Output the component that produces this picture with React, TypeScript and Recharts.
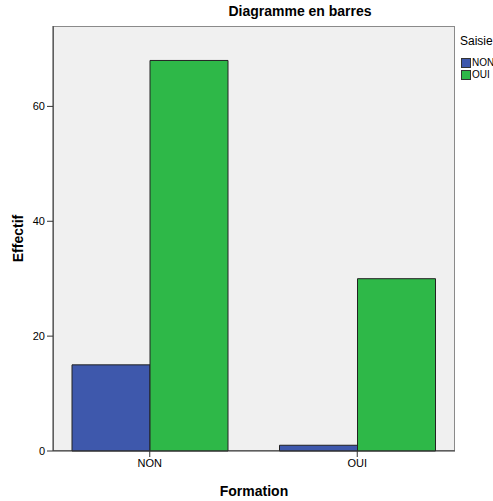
import React from "react";
import { BarChart, Bar, XAxis, YAxis, CartesianGrid } from "recharts";

// Formation categories and counts per "Saisie" answer
const categories = ["NON", "OUI"];
const saisieNon = [15, 1];
const saisieOui = [68, 30];
const yTicks = [0, 20, 40, 60];

const data = categories.map((c, i) => ({
  formation: c,
  NON: saisieNon[i],
  OUI: saisieOui[i],
}));

const BLUE = "#3E58AC";
const GREEN = "#2EB848";
const FONT = "Arial, 'Liberation Sans', sans-serif";

export default function App() {
  return (
    <div
      style={{
        position: "absolute",
        left: 0,
        top: 0,
        width: 493,
        height: 501,
        background: "#fff",
        fontFamily: FONT,
        overflow: "hidden",
      }}
    >
      {/* plot frame */}
      <div
        style={{
          position: "absolute",
          left: 53,
          top: 26,
          width: 402,
          height: 425,
          boxSizing: "border-box",
          border: "1px solid #8a8a8a",
          background: "#F0F0F0",
        }}
      />
      <div style={{ position: "absolute", left: 0, top: 0 }}>
        <BarChart
          width={493}
          height={501}
          data={data}
          margin={{ top: 26, right: 38, bottom: 0, left: 0 }}
          barGap={0}
          barCategoryGap={26}
        >
          <CartesianGrid horizontal={false} vertical={false} />
          <XAxis
            dataKey="formation"
            height={50}
            padding={{ left: -7, right: -6 }}
            tickSize={6}
            axisLine={{ stroke: "#333" }}
            tickLine={{ stroke: "#333" }}
            tick={{ fill: "#000", fontSize: 11, fontFamily: FONT }}
            label={{
              value: "Formation",
              position: "insideBottom",
              offset: 5,
              fill: "#000",
              fontSize: 14,
              fontWeight: "bold",
              fontFamily: FONT,
            }}
          />
          <YAxis
            width={53}
            domain={[0, 74]}
            ticks={yTicks}
            tickSize={6}
            axisLine={{ stroke: "#333" }}
            tickLine={{ stroke: "#333" }}
            tick={{ fill: "#000", fontSize: 11, fontFamily: FONT }}
            label={{
              value: "Effectif",
              angle: -90,
              position: "insideLeft",
              offset: 18,
              style: { textAnchor: "middle" },
              fill: "#000",
              fontSize: 14,
              fontWeight: "bold",
              fontFamily: FONT,
            }}
          />
          <Bar dataKey="NON" fill={BLUE} stroke="#222" strokeWidth={1} isAnimationActive={false} />
          <Bar dataKey="OUI" fill={GREEN} stroke="#222" strokeWidth={1} isAnimationActive={false} />
        </BarChart>
      </div>
      {/* title */}
      <div
        style={{
          position: "absolute",
          left: 200,
          width: 200,
          top: 3,
          textAlign: "center",
          fontSize: 14,
          fontWeight: "bold",
          color: "#000",
        }}
      >
        Diagramme en barres
      </div>
      {/* legend */}
      <div style={{ position: "absolute", left: 460, top: 34, fontSize: 12, color: "#000" }}>
        Saisie
      </div>
      {[
        { name: "NON", color: BLUE, top: 57 },
        { name: "OUI", color: GREEN, top: 69 },
      ].map((it) => (
        <div
          key={it.name}
          style={{
            position: "absolute",
            left: 461,
            top: it.top,
            display: "flex",
            alignItems: "center",
            fontSize: 10,
            color: "#000",
            whiteSpace: "nowrap",
          }}
        >
          <span
            style={{
              display: "inline-block",
              width: 8,
              height: 8,
              background: it.color,
              border: "1px solid #333",
              marginRight: 1,
            }}
          />
          {it.name}
        </div>
      ))}
    </div>
  );
}
